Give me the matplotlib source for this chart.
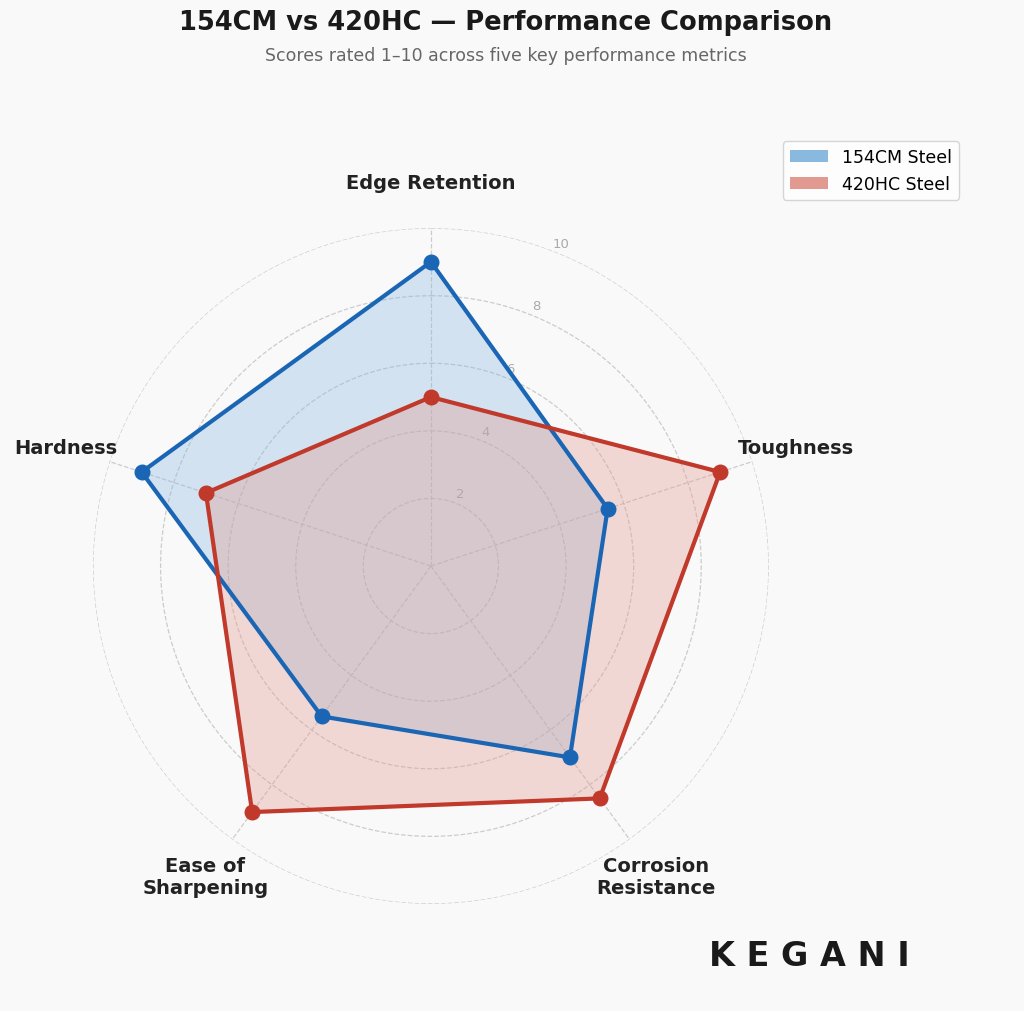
import numpy as np
import matplotlib
matplotlib.use("Agg")
import matplotlib.pyplot as plt
from matplotlib.patches import Patch

categories = ["Edge Retention", "Toughness", "Corrosion\nResistance", "Ease of\nSharpening", "Hardness"]
steel_154cm = [9.0, 5.5, 7.0, 5.5, 9.0]
steel_420hc = [5.0, 9.0, 8.5, 9.0, 7.0]
series_names = ["154CM Steel", "420HC Steel"]
ring_ticks = [2, 4, 6, 8, 10]

bg = "#f9f9f9"
fig = plt.figure(figsize=(10.24, 10.12), dpi=100, facecolor=bg)
ax = fig.add_axes([0.0908, 0.1057, 0.660, 0.668], projection="polar", facecolor=bg)
ax.set_theta_offset(np.pi / 2)
ax.set_theta_direction(-1)
n = len(categories)
ang = np.linspace(0, 2 * np.pi, n, endpoint=False)
ax.set_ylim(0, 10)
ax.spines["polar"].set_visible(False)
ax.grid(False)
ax.set_xticks([])
ax.set_yticks([])

tt = np.linspace(0, 2 * np.pi, 400)
for r in ring_ticks:
    ax.plot(tt, [r] * len(tt), ls="--", color="#cccccc", lw=0.9, zorder=1)
    ax.text(np.deg2rad(22), r + 0.3, str(r), color="#aaaaaa", fontsize=9.5, ha="center", va="center", zorder=1)
for a in ang:
    ax.plot([a, a], [0, 10], ls="--", color="#cccccc", lw=0.9, zorder=1)

colors = [("#1a66b5", "#8ab9e0"), ("#c0392b", "#e29a90")]
for vals, (lc, fc), name in zip([steel_154cm, steel_420hc], colors, series_names):
    a2 = np.append(ang, ang[0])
    v2 = np.append(vals, vals[0])
    ax.fill(a2, v2, color=fc, alpha=0.35, zorder=2, lw=0)
    ax.plot(a2, v2, color=lc, lw=3, zorder=3)
    ax.scatter(ang, vals, s=110, color=lc, zorder=4)

for a, lab in zip(ang, categories):
    ax.text(a, 11.35, lab, ha="center", va="center", fontsize=14, fontweight="bold", color="#222222")

handles = [Patch(facecolor="#8ab9e0", label=series_names[0]), Patch(facecolor="#e29a90", label=series_names[1])]
fig.legend(handles=handles, loc="upper right", bbox_to_anchor=(0.945, 0.868), fontsize=12.5, frameon=True,
           facecolor="white", edgecolor="#cccccc", handlelength=2.2)

fig.text(0.494, 0.977, "154CM vs 420HC — Performance Comparison", ha="center", va="center",
         fontsize=18.5, fontweight="bold", color="#1a1a1a")
fig.text(0.494, 0.945, "Scores rated 1–10 across five key performance metrics", ha="center", va="center",
         fontsize=12.5, color="#666666")
fig.text(0.79, 0.055, "K E G A N I", ha="center", va="center", fontsize=24, fontweight="bold", color="#1a1a1a")

fig.savefig("out.png", dpi=100, facecolor=bg)
